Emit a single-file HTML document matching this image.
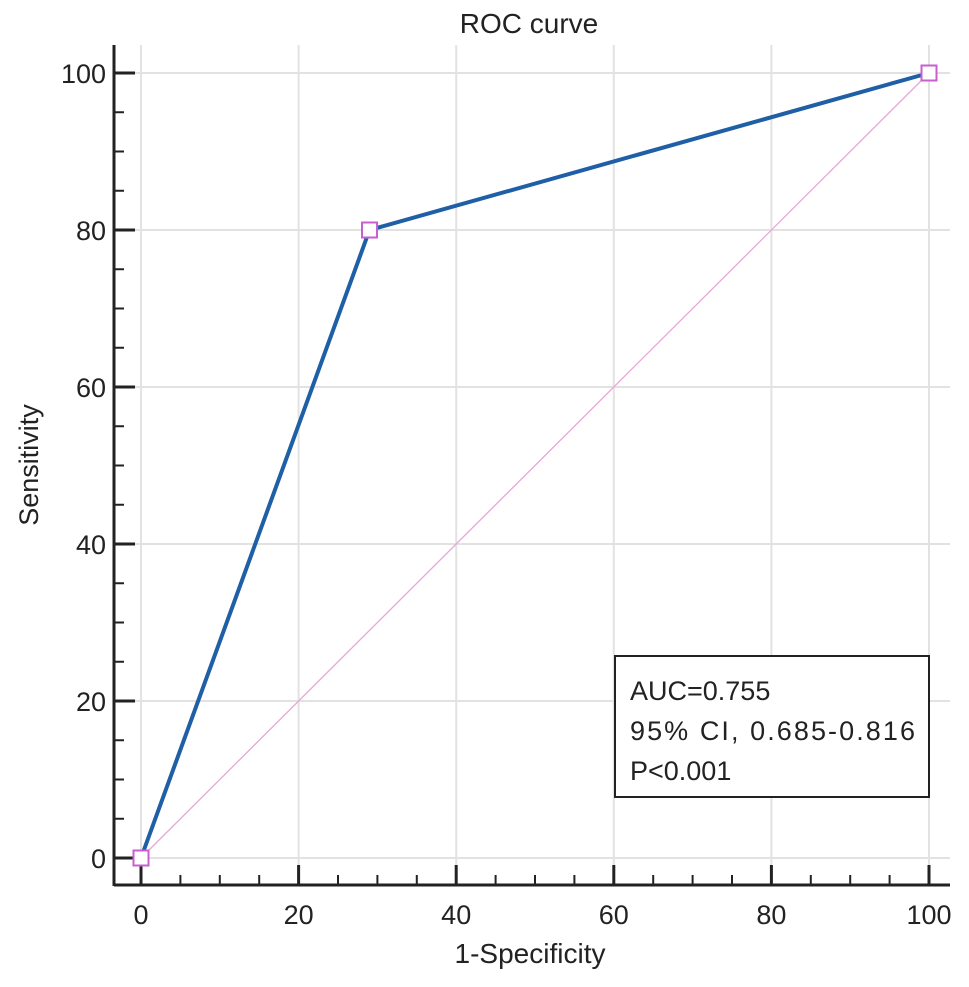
<!DOCTYPE html>
<html><head><meta charset="utf-8"><style>
html,body{margin:0;padding:0;background:#fff;}
svg text{font-family:"Liberation Sans",sans-serif;fill:#222;}
</style></head><body>
<svg id="chart" width="969" height="982" viewBox="0 0 969 982" xmlns="http://www.w3.org/2000/svg">
<text x="529" y="33" font-size="28" text-anchor="middle">ROC curve</text>
<text x="530" y="963" font-size="28" text-anchor="middle">1-Specificity</text>
<text x="38" y="465" font-size="27" text-anchor="middle" transform="rotate(-90 38 465)">Sensitivity</text>
<g id="grid"></g><g id="axes"></g><g id="series"></g>
<g>
<rect x="615" y="656" width="314" height="141" fill="#fff" stroke="#222" stroke-width="2"/>
<text x="630" y="700" font-size="27">AUC=0.755</text>
<text x="630" y="740" font-size="27" textLength="285">95% CI, 0.685-0.816</text>
<text x="630" y="780" font-size="27">P&lt;0.001</text>
</g>
</svg>
<script>
const xTicks=[0,20,40,60,80,100];
const yTicks=[0,20,40,60,80,100];
const fprValues=[0,29,100];
const tprValues=[0,80,100];
const refX=[0,100];
const refY=[0,100];
const NS="http://www.w3.org/2000/svg";
const sx=v=>141+v*7.88, sy=v=>858-v*7.85;
function mk(t,a,p){const e=document.createElementNS(NS,t);for(const k in a)e.setAttribute(k,a[k]);p.appendChild(e);return e;}
const grid=document.getElementById('grid'),axes=document.getElementById('axes'),ser=document.getElementById('series');
xTicks.forEach(v=>{const l=mk('line',{x1:sx(v),x2:sx(v),y1:45,y2:885,stroke:'#e2e2e2','stroke-width':2},grid);

});
yTicks.forEach(v=>{const l=mk('line',{x1:114,x2:950,y1:sy(v),y2:sy(v),stroke:'#e2e2e2','stroke-width':2},grid);

});
const xa=mk('line',{x1:114,x2:950,y1:885,y2:885,stroke:'#222','stroke-width':3},axes);


const ya=mk('line',{x1:114,x2:114,y1:45,y2:886,stroke:'#222','stroke-width':3},axes);


for(let v=0;v<=100;v+=5){const maj=v%20==0;
mk('line',{x1:sx(v),x2:sx(v),y1:885,y2:maj?865:875,stroke:'#222','stroke-width':maj?3:2},axes);
mk('line',{x1:114,x2:maj?135:124,y1:sy(v),y2:sy(v),stroke:'#222','stroke-width':maj?3:2},axes);}
xTicks.forEach(v=>{const t=mk('text',{x:sx(v),y:924,'font-size':27,'text-anchor':'middle'},axes);t.textContent=v;

});
yTicks.forEach(v=>{const t=mk('text',{x:106,y:sy(v)+10,'font-size':27,'text-anchor':'end'},axes);t.textContent=v;

});
const ref=mk('line',{x1:sx(refX[0]),y1:sy(refY[0]),x2:sx(refX[1]),y2:sy(refY[1]),stroke:'#e8a6d8','stroke-width':1.3},ser);


const pl=mk('polyline',{points:fprValues.map((v,i)=>sx(v)+','+sy(tprValues[i])).join(' '),fill:'none',stroke:'#1f5fa5','stroke-width':4},ser);


fprValues.forEach((v,i)=>{const r=mk('rect',{x:sx(v)-7.5,y:sy(tprValues[i])-7.5,width:15,height:15,fill:'#fff',stroke:'#c85ed0','stroke-width':2},ser);

});
</script>
</body></html>
